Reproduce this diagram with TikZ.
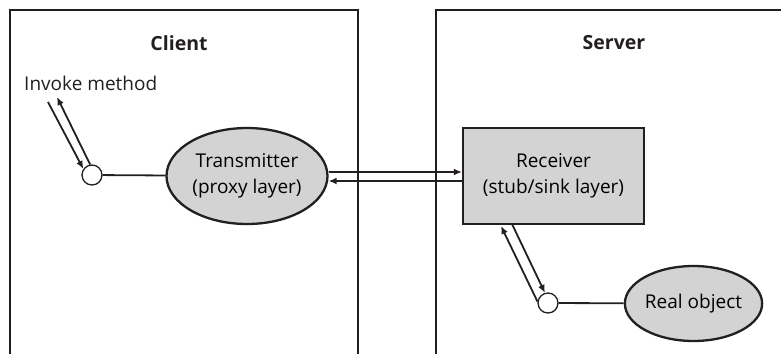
\documentclass[tikz,border=0pt]{standalone}
\usepackage{fontspec}
\setmainfont{Open Sans}
\usetikzlibrary{arrows.meta,calc,shapes.geometric}
\definecolor{fillgray}{RGB}{211,211,211}
\definecolor{ink}{RGB}{35,31,32}
\tikzset{
  frame/.style={draw=ink,line width=2.3pt},
  conn/.style={draw=ink,line width=1.8pt},
  arr/.style={conn,-{Latex[length=8pt,width=7pt]}},
  port/.style={circle,draw=ink,line width=1.3pt,fill=white,minimum size=20pt,inner sep=0pt},
  oval/.style={ellipse,draw=ink,line width=2.3pt,fill=fillgray,inner sep=0pt,font=\fontsize{19}{26}\selectfont,align=center},
  boxnode/.style={rectangle,draw=ink,line width=2.3pt,fill=fillgray,inner sep=0pt,font=\fontsize{19}{26}\selectfont,align=center},
  lbl/.style={text=ink,font=\fontsize{19}{26}\selectfont,inner sep=0pt},
  title/.style={text=ink,font=\fontsize{19.5}{26}\selectfont\bfseries,inner sep=0pt}
}
\begin{document}
\begin{tikzpicture}[x=1pt,y=-1pt]
\useasboundingbox (0,0) rectangle (781,354);
% frames
\draw[frame] (10,354) -- (10,10) -- (358,10) -- (358,354);
\draw[frame] (436,354) -- (436,10) -- (781,10);
\node[title] (client) at (179,43) {Client};
\node[title] (server) at (614,43) {Server};
\node[lbl,anchor=west] (invoke) at (24,83) {Invoke method};
% nodes
\node[port] (c1) at (92,175) {};
\node[oval,minimum width=161pt,minimum height=96pt] (tx) at (247,176) {Transmitter\\(proxy layer)};
\node[boxnode,minimum width=181pt,minimum height=96pt] (rx) at (553.5,176) {Receiver\\(stub/sink layer)};
\node[port] (c2) at (548,303) {};
\node[oval,minimum width=137pt,minimum height=75pt] (ro) at (693.5,303.5) {Real object};
% connectors
\draw[conn] (c1) -- (tx);
\draw[conn] (c2) -- (ro);
\draw[arr] ($(tx.east)+(0,-4)$) -- ($(rx.west)+(0,-4)$);
\draw[arr] ($(rx.west)+(0,5)$) -- ($(tx.east)+(0,5)$);
\coordinate (inA) at (48,102);
\coordinate (inB) at (57,97);
\draw[arr] (inA) -- (c1.145);
\draw[arr] (c1.100) -- (inB);
\coordinate (rxA) at (512,224);
\coordinate (rxB) at (501,226);
\draw[arr] (rxA) -- (c2.107);
\draw[arr] (c2.172) -- (rxB);
\end{tikzpicture}
\end{document}
